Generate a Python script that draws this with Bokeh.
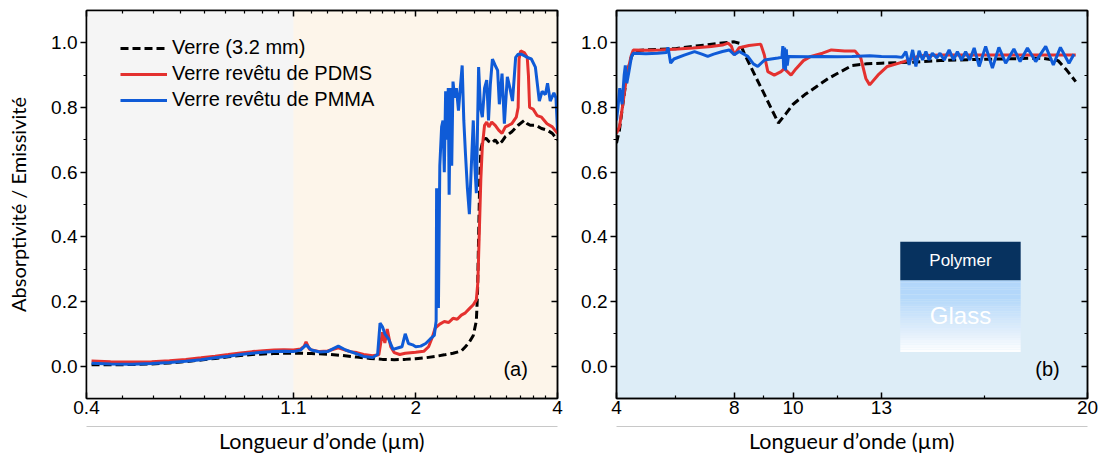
import numpy as np
from bokeh.plotting import figure
from bokeh.layouts import row
from bokeh.models import (Range1d, FixedTicker, LinearAxis, LogAxis, Label,
                          BoxAnnotation, PrintfTickFormatter, NumeralTickFormatter,
                          CustomJSTickFormatter)
from bokeh.embed import file_html
from bokeh.resources import INLINE

# ---------------- data: panel (a), 0.4 - 4 um ----------------
glass_a_x = [0.41, 0.45, 0.5, 0.55, 0.6, 0.65, 0.7, 0.75, 0.8, 0.85, 0.9, 0.95, 1.0, 1.05,
             1.1, 1.15, 1.2, 1.3, 1.4, 1.5, 1.6, 1.7, 1.8, 1.9, 2.0, 2.1, 2.2, 2.3, 2.4,
             2.5, 2.55, 2.6, 2.65, 2.69, 2.705, 2.72, 2.735, 2.75, 2.78, 2.82, 2.86, 2.9,
             2.95, 3.0, 3.05, 3.1, 3.2, 3.3, 3.4, 3.45, 3.5, 3.6, 3.7, 3.8, 3.9, 4.0]
glass_a_y = [0.004, 0.004, 0.005, 0.007, 0.010, 0.014, 0.019, 0.024, 0.029, 0.033, 0.036,
             0.038, 0.039, 0.040, 0.040, 0.040, 0.039, 0.037, 0.033, 0.028, 0.024, 0.021,
             0.020, 0.021, 0.023, 0.026, 0.030, 0.035, 0.040, 0.047, 0.060, 0.075, 0.095,
             0.14, 0.22, 0.40, 0.58, 0.67, 0.70, 0.705, 0.695, 0.69, 0.70, 0.685, 0.695,
             0.71, 0.725, 0.745, 0.76, 0.75, 0.745, 0.745, 0.735, 0.73, 0.72, 0.70]

pdms_a_x = [0.41, 0.45, 0.5, 0.55, 0.6, 0.65, 0.7, 0.75, 0.8, 0.85, 0.9, 0.95, 1.0, 1.05,
            1.1, 1.14, 1.16, 1.17, 1.19, 1.25, 1.3, 1.37, 1.45, 1.5, 1.55, 1.62, 1.67, 1.70,
            1.72, 1.74, 1.77, 1.8, 1.85, 1.9, 2.0, 2.08, 2.13, 2.17, 2.2, 2.25, 2.3, 2.35,
            2.4, 2.45, 2.5, 2.55, 2.6, 2.65, 2.69, 2.71, 2.73, 2.75, 2.77, 2.8, 2.83, 2.86,
            2.9, 2.95, 3.0, 3.05, 3.1, 3.15, 3.2, 3.27, 3.3, 3.315, 3.34, 3.4, 3.45, 3.47,
            3.49, 3.55, 3.62, 3.7, 3.8, 3.9, 4.0]
pdms_a_y = [0.016, 0.014, 0.013, 0.014, 0.017, 0.021, 0.026, 0.031, 0.036, 0.041, 0.045,
            0.048, 0.050, 0.051, 0.050, 0.053, 0.062, 0.075, 0.052, 0.045, 0.047, 0.057,
            0.045, 0.042, 0.036, 0.032, 0.035, 0.105, 0.072, 0.115, 0.060, 0.042, 0.036,
            0.040, 0.043, 0.046, 0.060, 0.090, 0.118, 0.130, 0.138, 0.135, 0.148, 0.145,
            0.158, 0.165, 0.178, 0.190, 0.205, 0.26, 0.42, 0.58, 0.68, 0.745, 0.755, 0.74,
            0.755, 0.745, 0.73, 0.72, 0.74, 0.745, 0.75, 0.77, 0.80, 0.95, 0.975, 0.97,
            0.955, 0.90, 0.80, 0.795, 0.775, 0.77, 0.75, 0.74, 0.72]

pmma_a_x = [0.41, 0.45, 0.5, 0.55, 0.6, 0.65, 0.7, 0.75, 0.8, 0.85, 0.9, 0.95, 1.0, 1.05,
            1.1, 1.14, 1.17, 1.2, 1.25, 1.3, 1.34, 1.37, 1.42, 1.5, 1.55, 1.62, 1.66, 1.68,
            1.70, 1.72, 1.75, 1.79, 1.83, 1.87, 1.9, 1.93, 1.97, 2.0, 2.05, 2.1, 2.15, 2.19,
            2.21, 2.215, 2.225, 2.235, 2.25, 2.27, 2.285, 2.30, 2.315, 2.33, 2.345, 2.355,
            2.37, 2.385, 2.40, 2.42, 2.44, 2.465, 2.49, 2.51, 2.53, 2.55, 2.575, 2.60,
            2.625, 2.65, 2.67, 2.69, 2.72, 2.745, 2.77, 2.80, 2.83, 2.855, 2.88, 2.91, 2.95,
            2.985, 3.01, 3.05, 3.085, 3.13, 3.17, 3.21, 3.24, 3.26, 3.3, 3.35, 3.4, 3.45,
            3.52, 3.59, 3.66, 3.71, 3.77, 3.81, 3.86, 3.93, 3.97, 4.0]
pmma_a_y = [0.009, 0.007, 0.006, 0.008, 0.011, 0.015, 0.020, 0.026, 0.031, 0.036, 0.040,
            0.043, 0.045, 0.046, 0.045, 0.050, 0.066, 0.050, 0.044, 0.045, 0.055, 0.062,
            0.050, 0.038, 0.030, 0.027, 0.036, 0.133, 0.122, 0.100, 0.085, 0.052, 0.056,
            0.060, 0.100, 0.070, 0.066, 0.060, 0.062, 0.070, 0.085, 0.095, 0.14, 0.55, 0.32,
            0.18, 0.62, 0.74, 0.76, 0.60, 0.85, 0.70, 0.86, 0.53, 0.86, 0.62, 0.88, 0.83,
            0.86, 0.79, 0.87, 0.93, 0.76, 0.66, 0.55, 0.47, 0.62, 0.76, 0.62, 0.535, 0.925,
            0.80, 0.77, 0.86, 0.885, 0.76, 0.87, 0.95, 0.93, 0.915, 0.81, 0.905, 0.75, 0.895,
            0.86, 0.82, 0.90, 0.955, 0.965, 0.965, 0.96, 0.955, 0.95, 0.925, 0.82, 0.85,
            0.84, 0.875, 0.82, 0.845, 0.83, 0.73]

# ---------------- data: panel (b), 4 - 20 um ----------------
glass_b_x = [4.0, 4.1, 4.2, 4.35, 4.5, 4.6, 5.0, 5.5, 6.0, 6.5, 7.0, 7.5, 8.0, 8.2, 8.35,
             8.7, 9.0, 9.25, 9.5, 9.75, 10.0, 10.4, 10.8, 11.2, 11.5, 12.0, 12.5, 13.0,
             14.0, 15.0, 16.0, 17.0, 18.0, 18.5, 19.0, 19.3, 19.6]
glass_b_y = [0.69, 0.73, 0.80, 0.90, 0.955, 0.975, 0.978, 0.98, 0.982, 0.988, 0.993, 0.999,
             1.003, 0.998, 0.965, 0.90, 0.845, 0.798, 0.752, 0.78, 0.81, 0.84, 0.865, 0.89,
             0.905, 0.93, 0.935, 0.937, 0.94, 0.945, 0.948, 0.95, 0.952, 0.952, 0.945, 0.915,
             0.88]

pdms_b_x = [4.0, 4.1, 4.2, 4.35, 4.5, 4.57, 5.0, 5.5, 6.09, 6.6, 7.22, 7.6, 7.79, 7.9, 8.0,
            8.17, 8.5, 8.9, 9.02, 9.14, 9.36, 9.59, 9.7, 9.93, 10.1, 10.35, 10.6, 11.0, 11.3,
            11.75, 12.1, 12.3, 12.47, 12.6, 12.88, 13.2, 13.77, 14.3, 15.0, 16.0, 17.0, 18.0,
            19.0, 19.6]
pdms_b_y = [0.72, 0.74, 0.80, 0.90, 0.96, 0.978, 0.977, 0.978, 0.981, 0.984, 0.989, 0.993,
            0.999, 0.99, 0.963, 0.985, 0.992, 0.996, 0.963, 0.911, 0.90, 0.911, 0.92, 0.90,
            0.92, 0.945, 0.958, 0.968, 0.978, 0.975, 0.975, 0.953, 0.89, 0.87, 0.90, 0.927,
            0.942, 0.96, 0.962, 0.962, 0.962, 0.962, 0.962, 0.962]

pmma_b_x = [4.0, 4.05, 4.11, 4.19, 4.26, 4.3, 4.35, 4.42, 4.51, 4.57, 5.0, 5.4, 5.7, 5.75,
            5.84, 5.95, 6.3, 6.65, 6.9, 7.1, 7.3, 7.6, 7.83, 8.0, 8.17, 8.46, 8.65, 8.8, 9.03,
            9.48, 9.62, 9.65, 9.68, 9.71, 9.74, 9.77, 9.80, 9.84, 10.5, 11.0, 11.5, 12.0,
            12.6, 13.0, 13.5, 13.7, 13.83, 13.94, 14.06, 14.17, 14.28, 14.40, 14.51, 14.62,
            14.73, 14.88, 14.99, 15.13, 15.30, 15.45, 15.58, 15.72, 15.86, 16.0, 16.15,
            16.32, 16.54, 16.77, 16.99, 17.22, 17.50, 17.71, 17.96, 18.24, 18.58, 18.84,
            19.08, 19.37, 19.54]
pmma_b_y = [0.76, 0.80, 0.86, 0.81, 0.90, 0.93, 0.875, 0.91, 0.958, 0.968, 0.966, 0.968,
            0.97, 0.986, 0.937, 0.95, 0.962, 0.973, 0.965, 0.958, 0.965, 0.973, 0.978, 0.963,
            0.973, 0.958, 0.935, 0.927, 0.947, 0.953, 0.955, 0.99, 0.92, 0.985, 0.915, 0.98,
            0.93, 0.958, 0.957, 0.958, 0.957, 0.958, 0.96, 0.958, 0.957, 0.955, 0.973, 0.932,
            0.978, 0.927, 0.975, 0.947, 0.973, 0.947, 0.968, 0.953, 0.968, 0.947, 0.978,
            0.947, 0.973, 0.947, 0.973, 0.947, 0.984, 0.927, 0.989, 0.922, 0.986, 0.937,
            0.981, 0.942, 0.984, 0.942, 0.989, 0.932, 0.986, 0.937, 0.965]

series_labels = ["Verre (3.2 mm)", "Verre revêtu de PDMS", "Verre revêtu de PMMA"]
xa_ticks = [0.4, 1.1, 2, 4]
xb_ticks = [4, 8, 10, 13, 20]
y_ticks = [0.0, 0.2, 0.4, 0.6, 0.8, 1.0]
x_title = "Longueur d’onde (µm)"
y_title = "Absorptivité / Emissivité"

# ---------------- styles ----------------
RED = "#e4312f"
BLUE = "#0f5bd7"
GRAY_BG = "#f5f5f5"
PEACH_BG = "#fdf5ea"
BLUE_BG = "#ddedf7"
TICK_FONT = "Liberation Sans"
TITLE_FONT = "Lato"
H = 456

# minor ticks: 8 evenly spaced between majors (left), midpoints (right)
xa_minor = []
for a, b in zip(xa_ticks[:-1], xa_ticks[1:]):
    xa_minor += list(np.linspace(a, b, 10)[1:-1])
xb_minor = [(a + b) / 2 for a, b in zip(xb_ticks[:-1], xb_ticks[1:])]
y_minor = [0.1, 0.3, 0.5, 0.7, 0.9]


def blank():
    return CustomJSTickFormatter(code="return ''")


def build(width, mb_left, mb_right, x_rng, log, xticks, xminor, bg, ylabel):
    p = figure(width=width, height=H, x_axis_type="log" if log else "linear",
               x_range=x_rng, y_range=Range1d(-0.1, 1.1),
               output_backend="svg", toolbar_location=None,
               min_border_left=mb_left, min_border_right=mb_right,
               min_border_top=10, min_border_bottom=58,
               background_fill_color=bg, border_fill_color="white",
               outline_line_color="black", outline_line_width=1.5)
    p.xgrid.visible = False
    p.ygrid.visible = False
    AX = LogAxis if log else LinearAxis

    def xt():
        return FixedTicker(ticks=xticks, minor_ticks=xminor)

    def yt():
        return FixedTicker(ticks=y_ticks, minor_ticks=y_minor)

    # bottom axis with tick labels (ticks inward)
    bx = p.xaxis[0]
    bx.ticker = xt()
    bx.formatter = PrintfTickFormatter(format="%g")
    bx.major_tick_in, bx.major_tick_out = 6, 0
    bx.minor_tick_in, bx.minor_tick_out = 3, 0
    bx.major_label_standoff = 2
    bx.major_label_text_font = TICK_FONT
    bx.major_label_text_font_size = "19px"
    bx.major_label_text_color = "black"
    bx.axis_line_width = 1.5
    bx.major_tick_line_width = 1.5
    bx.minor_tick_line_width = 1.2

    # invisible spacer axis, then the grey separator line carrying the title
    sp = AX(ticker=FixedTicker(ticks=[xticks[0]], minor_ticks=[]), formatter=blank(),
            axis_line_color=None, major_tick_out=10, major_tick_in=0,
            minor_tick_out=0, minor_tick_in=0, major_tick_line_color="white",
            major_label_text_font_size="1px", major_label_standoff=0)
    p.add_layout(sp, "below")
    sep = AX(ticker=FixedTicker(ticks=[], minor_ticks=[]), axis_line_color="#c8c8c8",
             axis_line_width=1, major_tick_out=0, major_tick_in=0, minor_tick_out=0,
             minor_tick_in=0, major_label_text_font_size="1px", major_label_standoff=0,
             axis_label=x_title, axis_label_standoff=1,
             axis_label_text_font=TITLE_FONT, axis_label_text_font_size="21.5px",
             axis_label_text_font_style="normal", axis_label_text_color="black")
    p.add_layout(sep, "below")

    # top mirror axis
    tx = AX(ticker=xt(), formatter=blank(), major_tick_in=6, major_tick_out=0,
            minor_tick_in=3, minor_tick_out=0, major_label_standoff=0,
            major_label_text_font_size="1px", axis_line_width=1.5,
            major_tick_line_width=1.5, minor_tick_line_width=1.2)
    p.add_layout(tx, "above")

    # left axis
    ly = p.yaxis[0]
    ly.ticker = yt()
    ly.formatter = NumeralTickFormatter(format="0.0")
    ly.major_tick_out, ly.major_tick_in = 6, 0
    ly.minor_tick_out, ly.minor_tick_in = 3, 0
    ly.major_label_standoff = 3
    ly.major_label_text_font = TICK_FONT
    ly.major_label_text_font_size = "19px"
    ly.major_label_text_color = "black"
    ly.axis_line_width = 1.5
    ly.major_tick_line_width = 1.5
    ly.minor_tick_line_width = 1.2
    if ylabel:
        ly.axis_label = ylabel
        ly.axis_label_standoff = 18
        ly.axis_label_text_font = TITLE_FONT
        ly.axis_label_text_font_size = "20px"
        ly.axis_label_text_font_style = "normal"
        ly.axis_label_text_color = "black"

    # right mirror axis
    ry = LinearAxis(ticker=yt(), formatter=blank(), major_tick_in=6, major_tick_out=0,
                    minor_tick_in=3, minor_tick_out=0, major_label_standoff=0,
                    major_label_text_font_size="1px", axis_line_width=1.5,
                    major_tick_line_width=1.5, minor_tick_line_width=1.2)
    p.add_layout(ry, "right")
    return p


# ---------------- panel (a) ----------------
pa = build(578, 86, 21, Range1d(0.4, 4), True, xa_ticks, xa_minor, PEACH_BG, y_title)
pa.add_layout(BoxAnnotation(right=1.1, fill_color=GRAY_BG, fill_alpha=1,
                            line_color=None, level="underlay"))
pa.line(glass_a_x, glass_a_y, line_color="black", line_width=3, line_dash="8 4",
        legend_label=series_labels[0])
pa.line(pdms_a_x, pdms_a_y, line_color=RED, line_width=3, legend_label=series_labels[1])
pa.line(pmma_a_x, pmma_a_y, line_color=BLUE, line_width=3, legend_label=series_labels[2])
lg = pa.legend[0]
lg.location = (34, 287)
lg.background_fill_alpha = 0
lg.border_line_alpha = 0
lg.padding = 0
lg.margin = 0
lg.spacing = 3
lg.glyph_width = 47
lg.glyph_height = 20
lg.label_height = 20
lg.label_standoff = 5
lg.label_text_font = TICK_FONT
lg.label_text_font_size = "20px"
lg.label_text_color = "black"
pa.add_layout(Label(x=3.26, y=-0.01, text="(a)", text_align="center",
                    text_baseline="middle", text_font=TICK_FONT,
                    text_font_size="20px", text_color="black"))

# ---------------- panel (b) ----------------
pb = build(524, 37, 15, Range1d(4, 20), False, xb_ticks, xb_minor, BLUE_BG, None)

# inset illustration: polymer layer on glass
INSET_X = (13.64, 17.73)
POLY_Y = (0.266, 0.385)
GLASS_Y = (0.044, 0.266)
n = 30
edges = np.linspace(GLASS_Y[1], GLASS_Y[0], n + 1)
t = (np.arange(n) + 0.5) / n
stops_t = [0.0, 0.25, 0.75, 1.0]
top_c = np.array([np.interp(t, stops_t, ch) for ch in
                  ([178, 180, 228, 255], [214, 216, 240, 255], [250, 250, 252, 255])]).T
cols = ["#%02x%02x%02x" % tuple(int(round(v)) for v in c) for c in top_c]
pb.quad(left=[INSET_X[0]] * n, right=[INSET_X[1]] * n, top=list(edges[:-1]),
        bottom=list(edges[1:]), fill_color=cols, line_color=None)
pb.quad(left=[INSET_X[0]], right=[INSET_X[1]], top=[POLY_Y[1]], bottom=[POLY_Y[0]],
        fill_color="#07325f", line_color=None)
cx = (INSET_X[0] + INSET_X[1]) / 2
pb.add_layout(Label(x=cx, y=(POLY_Y[0] + POLY_Y[1]) / 2, text="Polymer",
                    text_align="center", text_baseline="middle", text_font=TICK_FONT,
                    text_font_size="17px", text_color="white"))
pb.add_layout(Label(x=cx, y=0.158, text="Glass", text_align="center",
                    text_baseline="middle", text_font=TICK_FONT,
                    text_font_size="24px", text_color="white"))

pb.line(glass_b_x, glass_b_y, line_color="black", line_width=3, line_dash="8 4")
pb.line(pdms_b_x, pdms_b_y, line_color=RED, line_width=3)
pb.line(pmma_b_x, pmma_b_y, line_color=BLUE, line_width=3)
pb.add_layout(Label(x=18.64, y=-0.01, text="(b)", text_align="center",
                    text_baseline="middle", text_font=TICK_FONT,
                    text_font_size="20px", text_color="black"))

layout = row(pa, pb)
open("out.html", "w").write(file_html(layout, INLINE))
